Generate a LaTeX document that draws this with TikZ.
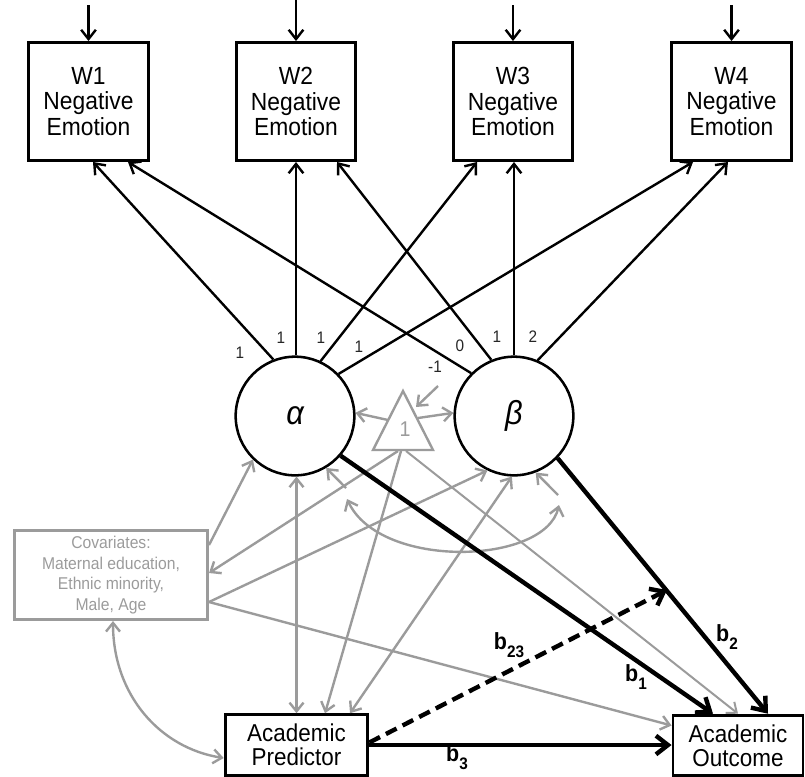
\documentclass[tikz,border=0pt]{standalone}
\usepackage{fontspec}
\setmainfont{Liberation Sans}[FakeStretch=0.92]
\usetikzlibrary{arrows.meta,calc}
\definecolor{gr}{RGB}{155,155,155}
\newcommand\bsub[1]{\raisebox{-0.32em}{\fontsize{12.5}{13}\selectfont #1}}
\begin{document}
\begin{tikzpicture}[x=0.75pt,y=-0.75pt,line join=miter,
  ebox/.style={draw=black,line width=2.2pt,minimum width=89.5pt,minimum height=88.5pt,inner sep=0pt,align=center,font=\fontsize{18.6}{19.4}\selectfont},
  lat/.style={draw=black,circle,line width=1.9pt,minimum size=89pt,inner sep=0pt,font=\fontsize{25}{26}\selectfont\itshape},
  abox/.style={draw=black,line width=2.2pt,minimum height=45.5pt,inner sep=0pt,align=center,font=\fontsize{18.3}{18.2}\selectfont},
  covbox/.style={draw=gr,line width=2pt,text=gr,minimum width=145pt,minimum height=67pt,inner sep=0pt,align=center,font=\fontsize{12.8}{15.6}\selectfont},
  ld/.style={draw=black,line width=1.8pt,-{Straight Barb[length=7pt,width=11pt]}},
  garrow/.style={draw=gr,line width=1.8pt,-{Straight Barb[length=6.5pt,width=10.5pt]}},
  gboth/.style={draw=gr,line width=1.8pt,{Straight Barb[length=6.5pt,width=10.5pt]}-{Straight Barb[length=6.5pt,width=10.5pt]}},
  barrow/.style={draw=black,line width=3.3pt,-{Straight Barb[length=9pt,width=14pt]}},
  dsh/.style={dash pattern=on 9pt off 5pt},
  lbl/.style={font=\fontsize{12.5}{13}\selectfont,text=black!85,inner sep=0pt},
  blab/.style={font=\bfseries\fontsize{17.5}{18}\selectfont,inner sep=0pt}]
\useasboundingbox (0,0) rectangle (805,776);

% indicator boxes
\node[ebox] (W1) at (88.5,101.5) {W1\\Negative\\Emotion};
\node[ebox] (W2) at (296,101.5) {W2\\Negative\\Emotion};
\node[ebox] (W3) at (513,101.5) {W3\\Negative\\Emotion};
\node[ebox] (W4) at (731.5,101.5) {W4\\Negative\\Emotion};

\coordinate (e1) at (88.5,5);
\coordinate (e2) at (296,0);
\coordinate (e3) at (513,5);
\coordinate (e4) at (731.5,5);
\draw[ld] (e1) -- (W1.north);
\draw[ld] (e2) -- (W2.north);
\draw[ld] (e3) -- (W3.north);
\draw[ld] (e4) -- (W4.north);

% latent factors
\node[lat] (A) at (295,416) {α};
\node[lat] (B) at (514,416) {β};

% loadings
\draw[ld] (A.111.6) -- ($(W1.south)+(4.5,0)$);
\draw[ld] (A.north -| W2.south) -- (W2.south);
\draw[ld] (A.65.9) -- ($(W3.south)+(-36,0)$);
\draw[ld] (A.44.4) -- ($(W4.south)+(-38.5,0)$);
\draw[ld] (B.135.6) -- ($(W1.south)+(39.5,0)$);
\draw[ld] (B.112.1) -- ($(W2.south)+(41,0)$);
\draw[ld] (B.north) -- (B.north |- W3.south);
\draw[ld] (B.67.5) -- ($(W4.south)+(-3.5,0)$);

\node[lbl] (l1) at (240,353) {1};
\node[lbl] (l2) at (281,338) {1};
\node[lbl] (l3) at (321,338) {1};
\node[lbl] (l4) at (359,347) {1};
\node[lbl] (l5) at (435,367) {-1};
\node[lbl] (l6) at (460,346) {0};
\node[lbl] (l7) at (497,337) {1};
\node[lbl] (l8) at (533,337) {2};

% constant triangle
\coordinate (tApex) at (403,391);
\coordinate (tLeft) at (373,450);
\coordinate (tRight) at (433,450);
\draw[draw=gr,line width=1.8pt] (tApex) -- (tLeft) -- (tRight) -- cycle;
\node[text=gr,font=\fontsize{16}{17}\selectfont,inner sep=0pt] (one) at (405,429) {1};
\coordinate (tL) at (388,420);
\coordinate (tR) at (418,418);
\coordinate (tB1) at (398,451);
\coordinate (tB2) at (401,451);
\coordinate (tB3) at (406,451);
\coordinate (tInTail) at (438,386);
\coordinate (tIn) at (416,407);

% covariates and observed variables
\node[covbox] (C) at (111,575) {Covariates:\\Maternal education,\\Ethnic minority,\\Male, Age};
\node[abox,minimum width=107pt] (P) at (296.5,745) {Academic\\Predictor};
\node[abox,minimum width=97.5pt] (O) at (738,745.5) {Academic\\Outcome};

% gray paths
\draw[garrow] (tL) -- (A.3);
\draw[garrow] (tR) -- (B.177);
\draw[garrow] (tInTail) -- (tIn);
\draw[garrow] (tB1) -- ($(C.east)+(0,-2)$);
\draw[garrow] (tB2) -- ($(P.north)+(28.5,0)$);
\draw[garrow,line width=1.5pt] (tB3) -- (O.north);
\draw[garrow] ($(C.east)+(0,-30)$) -- (A.226.3);
\draw[garrow] ($(C.east)+(0,27)$) -- (B.244.3);
\draw[garrow] ($(C.east)+(0,27)$) -- ($(O.west)+(0,-20)$);
\draw[gboth] (P.north |- A.south) -- (P.north);
\draw[gboth] (B.268) -- ($(P.north)+(53.5,0)$);
\draw[gboth] ($(C.south)+(2,0)$) .. controls (113,695) and (160,748) .. ($(P.west)+(0,13)$);

% disturbances and their covariance
\coordinate (dA) at (346,488);
\coordinate (dB) at (558,495);
\draw[garrow] (dA) -- (A.301.6);
\draw[garrow] (dB) -- (B.291.1);
\coordinate (arcA) at (347,499);
\coordinate (arcB) at (559,505);
\draw[gboth] (arcA) .. controls (380,570) and (545,565) .. (arcB);

% structural paths
\draw[barrow] (A.319.1) -- ($(O.north)+(-25,0)$);
\draw[barrow] (B.316.3) -- ($(O.north)+(30,0)$);
\draw[barrow] (P.east) -- (P.east -| O.west);
\coordinate (mod) at (667,590);
\draw[barrow,dsh] ($(P.east)+(0,-2.5)$) -- (mod);

\node[blab] (lb23) at (509,645) {b\bsub{23}};
\node[blab] (lb1) at (636,677) {b\bsub{1}};
\node[blab] (lb2) at (727,637) {b\bsub{2}};
\node[blab] (lb3) at (457,757) {b\bsub{3}};
\end{tikzpicture}
\end{document}
